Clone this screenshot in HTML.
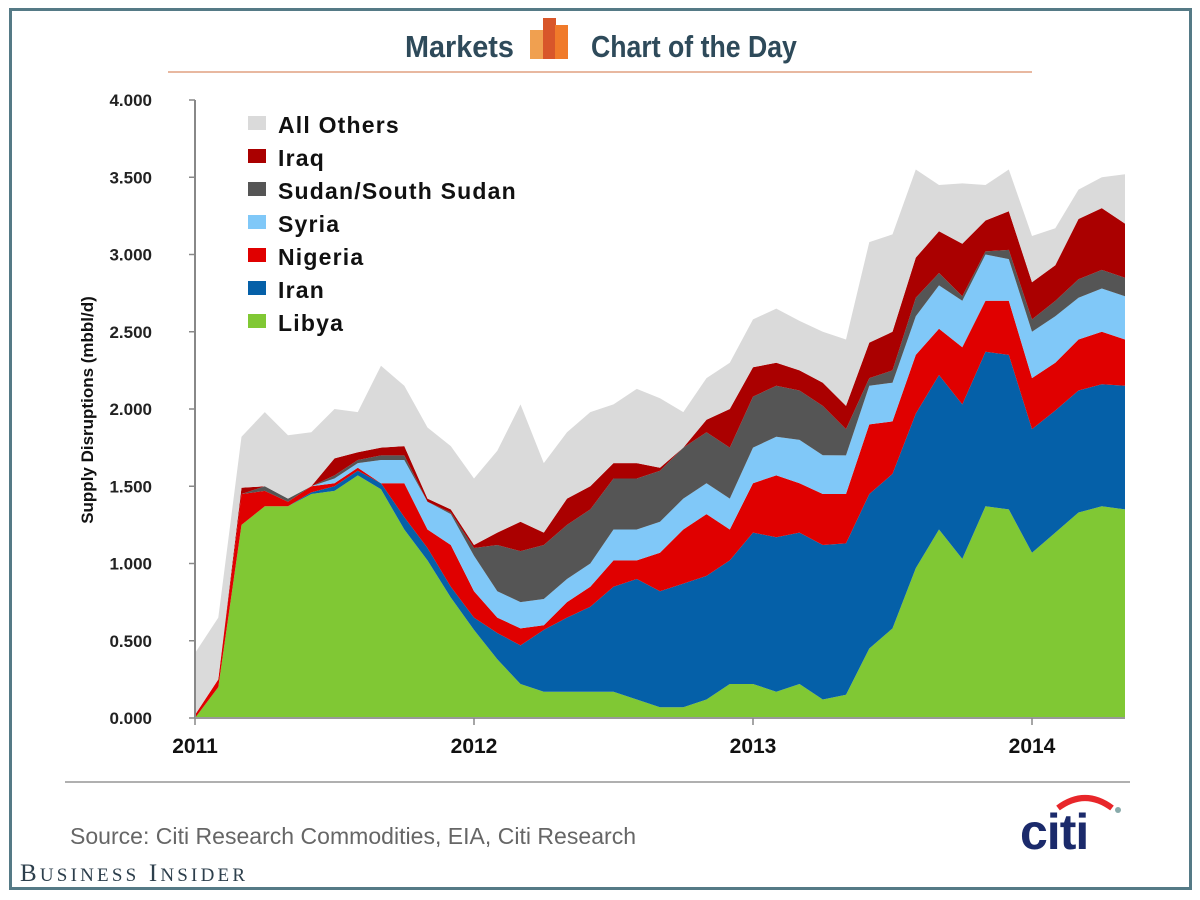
<!DOCTYPE html>
<html><head><meta charset="utf-8">
<style>
html,body{margin:0;padding:0;background:#fff;}
body{width:1200px;height:900px;position:relative;overflow:hidden;font-family:"Liberation Sans",sans-serif;}
#frame{position:absolute;left:9px;top:8px;width:1177px;height:876px;border:3px solid #557a86;}
</style></head>
<body>
<div id="frame"></div>
<svg id="chart" width="1200" height="900" style="position:absolute;left:0;top:0">
  <g>
    <text x="405" y="57" font-family="Liberation Sans, sans-serif" font-weight="bold" font-size="31" fill="#2e4a5a" transform="translate(405,0) scale(0.93,1) translate(-405,0)">Markets</text>
    <g>
      <rect x="530" y="30" width="14" height="29" fill="#f0a050"/>
      <rect x="543" y="18" width="13" height="41" fill="#d8562a"/>
      <rect x="555" y="25" width="13" height="34" fill="#f07a2a"/>
    </g>
    <text x="591" y="57" font-family="Liberation Sans, sans-serif" font-weight="bold" font-size="31" fill="#2e4a5a" transform="translate(591,0) scale(0.86,1) translate(-591,0)">Chart of the Day</text>
    <line x1="168" y1="72" x2="1032" y2="72" stroke="#e0a080" stroke-width="1.5"/>
  </g>
  <g id="plot"></g>
  <g id="axes"></g>
  <g id="legend"></g>
  <text transform="translate(93,410) rotate(-90)" text-anchor="middle" font-weight="bold" font-size="17" fill="#111">Supply Disruptions (mbbl/d)</text>
  <line x1="65" y1="782" x2="1130" y2="782" stroke="#b0b0b0" stroke-width="2"/>
  <text x="70" y="844" font-size="23" fill="#666" textLength="566">Source: Citi Research Commodities, EIA, Citi Research</text>
  <g>
    <path d="M1058 808 Q1085 788 1112 808" stroke="#e8262a" stroke-width="6" fill="none"/>
    <text x="1020" y="849" font-size="50" font-weight="bold" fill="#1b2a6b" letter-spacing="-1">citi</text>
    <circle cx="1118" cy="810" r="3" fill="#8aa"/>
  </g>
  <text x="20" y="881" font-family="Liberation Serif, serif" font-size="25" fill="#2d3f4c" textLength="225">B<tspan font-size="19">USINESS</tspan> I<tspan font-size="19">NSIDER</tspan></text>
</svg>
<script>
const months = Array.from({length:41},(_,i)=>i); // months since Jan 2011
const libya=[0,0.2,1.25,1.37,1.37,1.45,1.47,1.57,1.48,1.22,1.02,0.78,0.57,0.38,0.22,0.17,0.17,0.17,0.17,0.12,0.07,0.07,0.12,0.22,0.22,0.17,0.22,0.12,0.15,0.45,0.58,0.97,1.22,1.03,1.37,1.35,1.07,1.2,1.33,1.37,1.35];
const iran=[0,0,0,0,0,0.01,0.03,0.03,0.04,0.08,0.08,0.07,0.08,0.17,0.25,0.4,0.48,0.55,0.68,0.78,0.75,0.8,0.8,0.8,0.98,1.0,0.98,1.0,0.98,1.0,1.0,1.0,1.0,1.0,1.0,1.0,0.8,0.79,0.79,0.79,0.8];
const nigeria=[0.02,0.05,0.2,0.1,0.03,0.04,0.02,0.02,0,0.22,0.12,0.27,0.17,0.1,0.11,0.03,0.1,0.13,0.17,0.12,0.25,0.35,0.4,0.2,0.32,0.4,0.32,0.33,0.32,0.45,0.34,0.38,0.3,0.37,0.33,0.35,0.33,0.31,0.33,0.34,0.3];
const syria=[0,0,0,0,0,0,0.03,0.03,0.15,0.15,0.18,0.2,0.23,0.17,0.17,0.17,0.15,0.15,0.2,0.2,0.2,0.2,0.2,0.2,0.23,0.25,0.28,0.25,0.25,0.25,0.25,0.25,0.28,0.3,0.3,0.27,0.3,0.3,0.27,0.28,0.28];
const sudan=[0,0,0,0.03,0.02,0,0.02,0.02,0.03,0.03,0,0.01,0.05,0.3,0.33,0.35,0.35,0.35,0.33,0.33,0.33,0.33,0.33,0.33,0.33,0.33,0.32,0.32,0.17,0.05,0.08,0.12,0.08,0.03,0.02,0.06,0.08,0.1,0.12,0.12,0.12];
const iraq=[0,0,0.04,0,0,0,0.11,0.05,0.05,0.06,0.02,0.02,0.02,0.08,0.19,0.08,0.17,0.15,0.1,0.1,0.02,0,0.08,0.25,0.19,0.15,0.13,0.15,0.15,0.23,0.25,0.26,0.27,0.34,0.2,0.25,0.24,0.23,0.39,0.4,0.35];
const others=[0.4,0.4,0.33,0.48,0.41,0.35,0.32,0.26,0.53,0.39,0.46,0.41,0.43,0.53,0.76,0.45,0.43,0.48,0.38,0.48,0.45,0.23,0.27,0.3,0.31,0.35,0.32,0.33,0.43,0.65,0.63,0.57,0.3,0.39,0.23,0.27,0.3,0.24,0.19,0.2,0.32];
const seriesNames=["Libya","Iran","Nigeria","Syria","Sudan/South Sudan","Iraq","All Others"];
const seriesColors=["#80c834","#0560a8","#e00000","#80c8f8","#555555","#aa0000","#dadada"];
const yTicks=[0,0.5,1,1.5,2,2.5,3,3.5,4];
const yTickLabels=["0.000","0.500","1.000","1.500","2.000","2.500","3.000","3.500","4.000"];
const yearTicks=[0,12,24,36];
const yearLabels=["2011","2012","2013","2014"];

const NS="http://www.w3.org/2000/svg";
const x0=195,xPerMonth=(1032-195)/36,y0=718,yMaxPx=100,yMax=4;
const X=m=>x0+m*xPerMonth;
const Y=v=>y0-(v/yMax)*(y0-yMaxPx);
function mk(tag,attrs,parent){const e=document.createElementNS(NS,tag);for(const k in attrs)e.setAttribute(k,attrs[k]);parent.appendChild(e);return e;}

const all=[libya,iran,nigeria,syria,sudan,iraq,others];
const plot=document.getElementById('plot');
let base=months.map(()=>0);
all.forEach((s,si)=>{
  const top=base.map((b,i)=>b+s[i]);
  let d="M"+months.map(m=>X(m).toFixed(1)+","+Y(top[m]).toFixed(1)).join(" L");
  for(let i=months.length-1;i>=0;i--) d+=" L"+X(months[i]).toFixed(1)+","+Y(base[i]).toFixed(1);
  d+=" Z";
  const p=mk('path',{d:d,fill:seriesColors[si]},plot);
  
  
  base=top;
});

const axes=document.getElementById('axes');
const ya=mk('line',{x1:x0,y1:yMaxPx,x2:x0,y2:y0,stroke:'#888','stroke-width':2},axes);


const xa=mk('line',{x1:x0,y1:y0,x2:X(40),y2:y0,stroke:'#999','stroke-width':2},axes);


yTicks.forEach((v,i)=>{
  mk('line',{x1:x0-6,y1:Y(v),x2:x0,y2:Y(v),stroke:'#888','stroke-width':1.5},axes);
  const t=mk('text',{x:152,y:Y(v)+6,'text-anchor':'end','font-size':17,'font-weight':'bold',fill:'#222'},axes);
  t.textContent=yTickLabels[i];
  
  
});
yearTicks.forEach((m,i)=>{
  mk('line',{x1:X(m),y1:y0,x2:X(m),y2:y0+7,stroke:'#888','stroke-width':1.5},axes);
  const t=mk('text',{x:X(m),y:753,'text-anchor':'middle','font-size':21,'font-weight':'bold',fill:'#111'},axes);
  t.textContent=yearLabels[i];
  
  
});

const lg=document.getElementById('legend');
for(let k=0;k<7;k++){
  const si=6-k, y=125+k*33;
  const r=mk('rect',{x:248,y:y-9,width:18,height:14,fill:seriesColors[si]},lg);
  
  
  const t=mk('text',{x:278,y:y+8,'font-size':23,'font-weight':'bold',fill:'#111','letter-spacing':1.2},lg);
  t.textContent=seriesNames[si];
  
  
}
</script>
</body></html>
